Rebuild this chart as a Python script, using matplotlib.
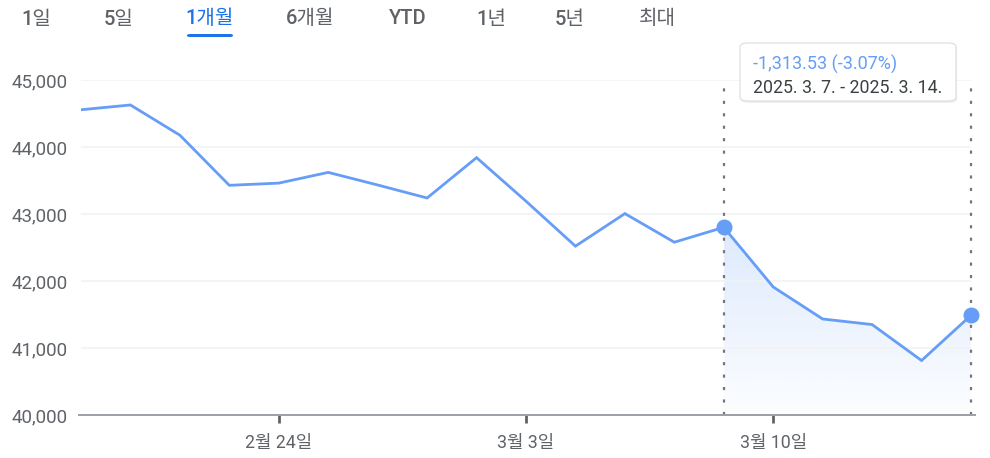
import matplotlib
matplotlib.use("Agg")
import matplotlib.pyplot as plt
import numpy as np
from matplotlib.patches import FancyBboxPatch, Polygon

plt.rcParams['font.family'] = ['Roboto', 'Noto Sans CJK KR', 'DejaVu Sans']

dates = ["2/18", "2/19", "2/20", "2/21", "2/24", "2/25", "2/26", "2/27", "2/28",
         "3/3", "3/4", "3/5", "3/6", "3/7", "3/10", "3/11", "3/12", "3/13", "3/14"]
values = [44556, 44627, 44176, 43428, 43461, 43621, 43433, 43239, 43841,
          43191, 42520, 43006, 42579, 42801, 41911, 41433, 41350, 40813, 41488]
xtick_idx = [4, 9, 14]
xtick_labels = ["2월 24일", "3월 3일", "3월 10일"]
yticks = [40000, 41000, 42000, 43000, 44000, 45000]
ytick_labels = ["40,000", "41,000", "42,000", "43,000", "44,000", "45,000"]
tabs = ["1일", "5일", "1개월", "6개월", "YTD", "1년", "5년", "최대"]
tab_x = [36, 119, 210, 310, 408, 491, 570, 657]
sel_start, sel_end = 13, 18
tip_line1 = "-1,313.53 (-3.07%)"
tip_line2 = "2025. 3. 7. - 2025. 3. 14."

W, H = 990, 458
fig = plt.figure(figsize=(W/100, H/100), dpi=100)
ax = fig.add_axes([81/W, 1-415/H, (971-81)/W, (415-80)/H])

x = np.arange(len(values))
line_c = '#669df6'
ax.set_xlim(0, len(values)-1)
ax.set_ylim(40000, 45000)

# gradient fill under selected range
xs = x[sel_start:sel_end+1]
ys = np.array(values[sel_start:sel_end+1])
verts = [(xs[0], 40000)] + list(zip(xs, ys)) + [(xs[-1], 40000)]
poly = Polygon(verts, closed=True, facecolor='none', edgecolor='none')
ax.add_patch(poly)
grad = np.linspace(0, 1, 256)
cmap_arr = np.zeros((256, 1, 4))
cmap_arr[:, 0, :3] = np.array([0.40, 0.62, 0.96])
cmap_arr[:, 0, 3] = 0.02 + 0.2 * grad
im = ax.imshow(cmap_arr, extent=[xs[0], xs[-1], 40000, max(ys)], origin='lower',
               aspect='auto', zorder=1, interpolation='bilinear')
im.set_clip_path(poly)

ax.plot(x, values, color=line_c, lw=2.0, zorder=3, solid_joinstyle='miter')
ax.plot([x[sel_start], x[sel_end]], [values[sel_start], values[sel_end]], 'o',
        color=line_c, ms=10.5, zorder=4, clip_on=False)

for i in (sel_start, sel_end):
    ax.plot([i, i], [40000, 44925], color='#757575', lw=1.6,
            dashes=(1.4, 4.2), zorder=2, clip_on=False)

ax.set_yticks(yticks)
ax.set_yticklabels(ytick_labels)
ax.set_xticks(xtick_idx)
ax.set_xticklabels(xtick_labels)
ax.grid(axis='y', color='#f1f3f4', lw=1.2, zorder=0)
ax.tick_params(axis='y', length=0, pad=9.4, labelsize=13.5, labelcolor='#5f6368')
ax.tick_params(axis='x', length=6, width=2, color='#5f6368', pad=8,
               labelsize=12.8, labelcolor='#5f6368')
for s in ['top', 'right', 'left']:
    ax.spines[s].set_visible(False)
ax.spines['bottom'].set_color('#9aa0a6')
ax.spines['bottom'].set_linewidth(1.4)
ax.spines['bottom'].set_bounds(-0.05, 18.08)

# tabs
for t, tx in zip(tabs, tab_x):
    sel = (t == "1개월")
    fig.text(tx/W, 1-19/H, t, ha='center', va='center', fontsize=14.5,
             fontweight='medium', color='#1a73e8' if sel else '#5f6368')
fig.patches.append(FancyBboxPatch((187/W, 1-37/H), 46/W, 3/H,
                                  boxstyle='round,pad=0,rounding_size=0.003',
                                  transform=fig.transFigure, facecolor='#1a73e8',
                                  edgecolor='none'))

# tooltip
bx0, by0, bx1, by1 = 740, 43, 956, 101
shadow = FancyBboxPatch(((bx0+1)/W, 1-(by1+2)/H), (bx1-bx0)/W, (by1-by0)/H,
                        boxstyle='round,pad=0,rounding_size=0.008',
                        transform=fig.transFigure, facecolor='#000000', alpha=0.06,
                        edgecolor='none', zorder=9)
fig.patches.append(shadow)
box = FancyBboxPatch((bx0/W, 1-by1/H), (bx1-bx0)/W, (by1-by0)/H,
                     boxstyle='round,pad=0,rounding_size=0.008',
                     transform=fig.transFigure, facecolor='white',
                     edgecolor='#dadce0', lw=0.8, zorder=10)
fig.patches.append(box)
fig.text(753/W, 1-64/H, tip_line1, ha='left', va='center', fontsize=13,
         color='#669df6', zorder=11)
fig.text(753/W, 1-88/H, tip_line2, ha='left', va='center', fontsize=12.8,
         color='#3c4043', zorder=11)

fig.savefig('out.png', dpi=100)
